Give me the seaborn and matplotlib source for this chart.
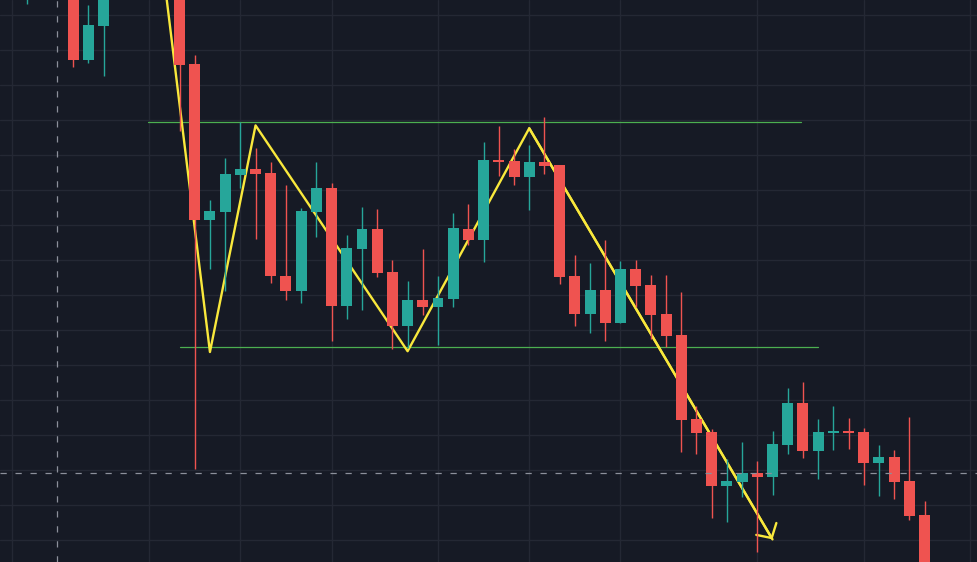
import numpy as np
import pandas as pd
import matplotlib
matplotlib.use("Agg")
import matplotlib.pyplot as plt
import seaborn as sns

# ---------------- data ----------------
idx = [-3, 0, 1, 2, 7, 8, 9, 10, 11, 12, 13, 14, 15, 16, 17, 18, 19, 20, 21, 22,
       23, 24, 25, 26, 27, 28, 29, 30, 31, 32, 33, 34, 35, 36, 37, 38, 39, 40,
       41, 42, 43, 44, 45, 46, 47, 48, 49, 50, 51, 52, 53, 54, 55, 56]
opens = [62.0, 63.0, 54.01, 57.38, 62.0, 53.58, 38.03, 38.82, 42.51, 43.08,
         42.69, 32.4, 30.93, 38.82, 41.18, 29.43, 35.13, 37.1, 32.8, 27.39,
         30.0, 29.28, 30.11, 37.1, 35.99, 44.02, 43.91, 42.3, 43.8, 43.51,
         32.4, 28.6, 31.0, 27.71, 33.08, 31.5, 28.6, 26.49, 18.1, 16.81,
         11.4, 11.8, 12.66, 12.3, 15.49, 19.71, 14.91, 16.7, 16.88, 16.81,
         13.7, 14.3, 11.9, 8.5]
highs = [67.0, 64.0, 59.5, 63.5, 63.0, 54.52, 40.0, 44.2, 47.78, 45.2,
         43.8, 41.5, 39.21, 43.8, 41.69, 36.49, 39.28, 39.1, 34.02, 31.9,
         35.09, 32.4, 38.71, 39.6, 45.81, 47.38, 45.09, 45.48, 48.32, 43.51,
         34.52, 33.69, 35.99, 33.9, 34.02, 32.51, 32.51, 30.79, 19.4, 17.1,
         14.09, 15.81, 13.91, 16.88, 21.18, 21.8, 18.1, 19.4, 18.21, 17.2,
         15.49, 14.98, 18.32, 9.9]
lows = [59.64, 53.3, 53.69, 52.4, 46.92, 13.12, 33.12, 30.93, 41.22, 36.13,
        31.69, 30.0, 29.71, 36.31, 25.95, 28.1, 29.0, 32.33, 25.13, 25.2,
        28.5, 25.49, 29.28, 35.52, 33.8, 42.44, 41.51, 39.0, 42.62, 31.61,
        27.38, 26.7, 25.95, 27.71, 29.28, 26.1, 25.3, 14.84, 14.63, 8.21,
        7.85, 10.29, 4.81, 10.5, 14.63, 14.2, 12.12, 14.98, 15.09, 11.51,
        10.4, 10.11, 8.0, -1.0]
closes = [66.0, 54.01, 57.49, 62.5, 53.51, 38.03, 38.89, 42.62, 43.08, 42.62,
          32.4, 30.93, 38.89, 41.18, 29.43, 35.2, 37.1, 32.69, 27.39, 30.0,
          29.28, 30.22, 37.2, 35.99, 44.02, 43.8, 42.3, 43.8, 43.41, 32.3,
          28.6, 31.0, 27.71, 33.08, 31.4, 28.5, 26.42, 18.03, 16.7, 11.4,
          11.9, 12.66, 12.3, 15.6, 19.71, 14.91, 16.81, 16.88, 16.7, 13.7,
          14.3, 11.8, 8.39, 0.0]

# zig-zag drawing (W pattern then breakdown arrow)
zz_idx = [5, 9, 12, 22, 30, 46]
zz_price = [74.4, 24.8, 47.46, 24.88, 47.17, 6.06]

# horizontal levels
res_level, res_span = 47.78, [4.9, 47.9]
sup_level, sup_span = 25.27, [7.0, 49.0]

# crosshair
cross_idx, cross_price = -1.04, 12.67

# time grid (candle index) and price grid
time_grid = [-4, 5, 11, 17, 24, 30, 36, 45, 52, 59]
price_grid = list(np.arange(58.46, 0, -3.5))

# ---------------- styling ----------------
BG = "#161a25"
GRID = "#242834"
UP = "#26a69a"
DOWN = "#ef5350"
YELLOW = "#f9e83c"
GREEN = "#4caf50"
CROSS = "#8c909b"

sns.set_style("dark", {"axes.facecolor": BG, "figure.facecolor": BG,
                       "grid.color": GRID, "axes.edgecolor": BG})

df = pd.DataFrame({"idx": idx, "open": opens, "high": highs,
                   "low": lows, "close": closes})
df["up"] = df["close"] >= df["open"]
df["color"] = np.where(df["up"], UP, DOWN)
df["bottom"] = df[["open", "close"]].min(axis=1)
df["height"] = (df["close"] - df["open"]).abs()

fig = plt.figure(figsize=(9.77, 5.62), dpi=100)
ax = fig.add_axes([0, 0, 1, 1])
ax.set_facecolor(BG)

# grid
ax.set_xticks(time_grid)
ax.set_yticks(price_grid)
ax.grid(True, color=GRID, linewidth=1.0, zorder=0)
ax.tick_params(left=False, bottom=False, labelleft=False, labelbottom=False)
for s in ax.spines.values():
    s.set_visible(False)

# horizontal levels
lv = pd.DataFrame({"x": res_span + sup_span,
                   "y": [res_level, res_level, sup_level, sup_level],
                   "g": ["res", "res", "sup", "sup"]})
sns.lineplot(data=lv, x="x", y="y", units="g", estimator=None, color=GREEN,
             linewidth=0.9, ax=ax, zorder=2, legend=False)

# zigzag
zz = pd.DataFrame({"x": zz_idx, "y": zz_price})
sns.lineplot(data=zz, x="x", y="y", sort=False, estimator=None, color=YELLOW,
             linewidth=1.7, ax=ax, zorder=3, legend=False)
ax.annotate("", xy=(zz_idx[-1], zz_price[-1]), xytext=(zz_idx[-2], zz_price[-2]),
            arrowprops=dict(arrowstyle="->,head_length=0.38,head_width=0.42",
                            color=YELLOW, lw=1.7, shrinkA=0, shrinkB=0,
                            mutation_scale=20),
            zorder=3)

# candles
wicks = ax.vlines(df["idx"], df["low"], df["high"], colors=df["color"],
                  linewidth=1.0, zorder=4)
wicks.set_snap(True)
ax.bar(df["idx"], df["height"], bottom=df["bottom"], width=0.72,
       color=df["color"], linewidth=0, zorder=5)

# crosshair
ax.axvline(cross_idx, color=CROSS, linewidth=0.9, linestyle=(0, (5, 7)), zorder=6)
ax.axhline(cross_price, color=CROSS, linewidth=0.9, linestyle=(0, (5, 7)), zorder=6)

ax.set_xlim(-4.808, 59.45)
ax.set_ylim(3.8, 60.0)
ax.set_xlabel("")
ax.set_ylabel("")

fig.savefig("out.png", dpi=100, facecolor=BG)
